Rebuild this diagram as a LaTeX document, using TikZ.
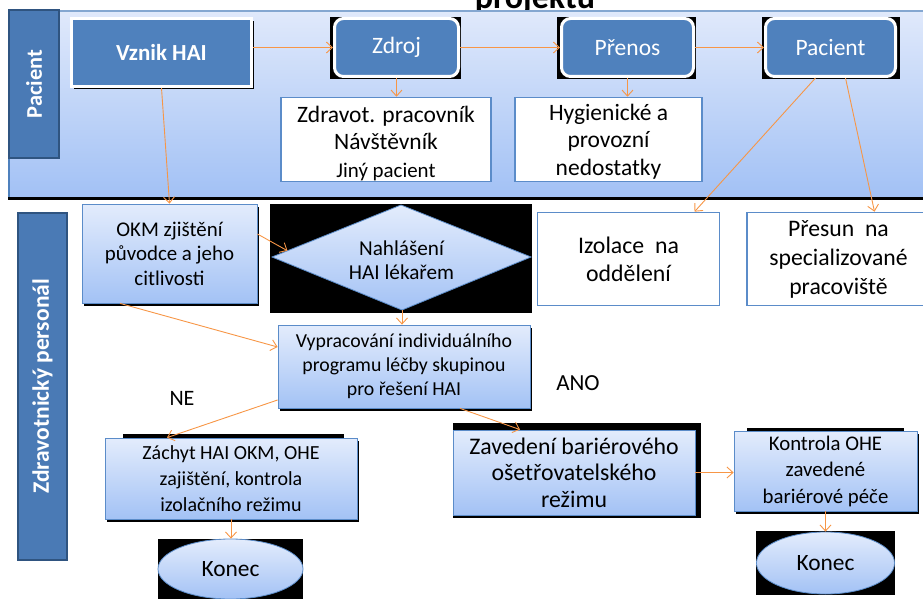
\documentclass[tikz,border=0pt]{standalone}
\usepackage{fontspec}
\setmainfont{Carlito}
\usetikzlibrary{arrows.meta,shapes.geometric,shadows,calc}
\definecolor{orng}{HTML}{F79646}
\definecolor{dblue}{HTML}{4F81BD}
\definecolor{lblue}{HTML}{4A7AB5}
\definecolor{lborder}{HTML}{2F5480}
\definecolor{gtop}{HTML}{E3ECFC}
\definecolor{gbot}{HTML}{A3C2F5}
\definecolor{wborder}{HTML}{5B8CC9}
\definecolor{bandtop}{HTML}{E0E9FB}
\definecolor{bandbot}{HTML}{A2C1F5}
\newcommand{\fs}[2]{\fontsize{#1}{#2}\selectfont}
\begin{document}
\begin{tikzpicture}[x=1pt,y=-1pt,
  arr/.style={draw=orng, line width=0.9pt, -{Straight Barb[length=6pt,width=11pt]}},
  lanelabel/.style={draw=lborder, line width=1.2pt, fill=lblue, text=white, rotate=90, inner sep=0pt},
  headbox/.style={rounded corners=9pt, fill=dblue, draw=white, line width=3pt, text=white, inner sep=0pt, font=\fs{23.5}{27}},
  whitebox/.style={draw=wborder, line width=1.6pt, fill=white, align=center, inner sep=0pt},
  lightbox/.style={draw=wborder, line width=0.8pt, top color=gtop, bottom color=gbot, align=center, inner sep=0pt,
     drop shadow={shadow xshift=2pt, shadow yshift=-3pt, fill=black, opacity=1}},
  endbox/.style={ellipse, draw=wborder, line width=0.8pt, top color=gtop, bottom color=gbot, inner sep=0pt, font=\fs{23.4}{27}},
  blk/.style={fill=black}
]
\useasboundingbox (0,0) rectangle (923,599);
\clip (0,0) rectangle (923,599);

% title (cut off at top, as in the reference)
\node[anchor=base, font=\bfseries\fs{34}{40}] (title) at (535,9) {projektu};

% Pacient band
\path[top color=bandtop, bottom color=bandbot] (9,11) rectangle (935,197);
\draw[draw=dblue!70, line width=1.2pt] (9,11) -- (935,11);
\draw[draw=dblue, line width=1.2pt] (9,11) -- (9,197);
\draw[black, line width=3pt] (8,198.5) -- (935,198.5);

% lane labels
\node[lanelabel, minimum width=148pt, minimum height=50pt, font=\bfseries\fs{22.4}{26}] (lanep) at (34,84) {Pacient};
\node[lanelabel, minimum width=347pt, minimum height=49pt, font=\bfseries\fs{23.5}{27}] (lanez) at (42.5,386.5) {Zdravotnický personál};

% black backgrounds
\fill[blk] (330,17) rectangle (461,79);
\fill[blk] (557,17) rectangle (696,79);
\fill[blk] (762,17) rectangle (900,79);
\fill[blk] (270,204) rectangle (532,313);
\fill[blk] (123,434) rectangle (344,441);
\fill[blk] (158,539) rectangle (303,599);
\fill[blk] (453,423) rectangle (701,518);
\fill[blk] (747,428) rectangle (904,434);
\fill[blk] (756,531) rectangle (895,595);

% top row
\node[fill=dblue, draw=white, line width=3pt, text=white, inner sep=0pt, minimum width=180pt, minimum height=68pt,
      font=\bfseries\fs{23}{27},
      drop shadow={shadow xshift=2pt, shadow yshift=-2.5pt, fill=black, opacity=1}] (vznik) at (161.5,52.5) {Vznik HAI};
\node[headbox, minimum width=124pt, minimum height=58pt] (zdroj) at (396.5,47.5) {Zdroj};
\node[headbox, minimum width=132pt, minimum height=58pt] (prenos) at (627.5,47.5) {Přenos};
\node[headbox, minimum width=130pt, minimum height=58pt] (pacient) at (830.5,47.5) {Pacient};

\node[whitebox, minimum width=210pt, minimum height=84pt] (zdravot) at (386,139.5) {};
\node[align=center, inner sep=0pt, font=\fs{23.5}{27.5}] (zdravottxt) at ([yshift=-4pt]zdravot.center)
  {Zdravot. pracovník\\Návštěvník\\{\fs{20.9}{27}Jiný pacient}};
\node[whitebox, minimum width=187pt, minimum height=84pt] (hyg) at (608.5,139.5) {};
\node[align=center, inner sep=0pt, font=\fs{23.5}{27.5}] (hygtxt) at ([yshift=-2pt]hyg.center)
  {Hygienické a\\provozní\\nedostatky};

% second lane
\node[lightbox, minimum width=175pt, minimum height=99pt, font=\fs{20.9}{24.5}] (okm) at (169.5,253.5)
  {OKM zjištění\\původce a jeho\\citlivosti};
\coordinate (diaW) at (272,257);
\coordinate (diaN) at (401,205);
\coordinate (diaE) at (531,257);
\coordinate (diaS) at (402,310);
\path[draw=wborder, line width=0.8pt, top color=gtop, bottom color=gbot] (diaW) -- (diaN) -- (diaE) -- (diaS) -- cycle;
\node[align=center, inner sep=0pt, font=\fs{21.2}{24}] (dia) at (401.5,260) {Nahlášení\\HAI lékařem};
\node[whitebox, minimum width=182pt, minimum height=93pt, font=\fs{23.8}{28}] (izol) at (628.5,259)
  {Izolace\ \ na\\oddělení};
\node[whitebox, minimum width=183pt, minimum height=93pt, font=\fs{23.7}{29}] (presun) at (838.5,259)
  {Přesun\ \ na\\specializované\\pracoviště};

\node[lightbox, minimum width=252pt, minimum height=83pt, font=\fs{19.8}{24}] (vyprac) at (404,366.5)
  {Vypracování individuálního\\programu léčby skupinou\\pro řešení HAI};

\node[font=\fs{22}{26}] (ne) at (182,398) {NE};
\node[font=\fs{23}{27}] (ano) at (578,383) {ANO};

\node[lightbox, minimum width=252pt, minimum height=81pt, font=\fs{20}{26}] (zachyt) at (231,478.5)
  {Záchyt HAI OKM, OHE\\zajištění, kontrola\\izolačního režimu};
\node[draw=wborder, line width=0.8pt, top color=gtop, bottom color=gbot, align=center, inner sep=0pt,
      minimum width=242pt, minimum height=85pt, font=\fs{23.8}{26.5}] (zaved) at (574,472.5)
  {Zavedení bariérového\\ošetřovatelského\\režimu};
\node[lightbox, minimum width=183pt, minimum height=80pt, font=\fs{20.8}{26.5}] (kontr) at (825.5,471)
  {Kontrola OHE\\zavedené\\bariérové péče};

\node[endbox, minimum width=145pt, minimum height=60pt] (konec1) at (230.5,569) {Konec};
\node[endbox, minimum width=138pt, minimum height=62pt] (konec2) at (825.5,563) {Konec};

% connectors
\draw[arr] (vznik.east |- zdroj.west) -- (zdroj.west);
\draw[arr] (zdroj.east) -- (prenos.west);
\draw[arr] (prenos.east) -- (pacient.west);
\draw[arr] (zdroj.south) -- (zdroj.south |- zdravot.north);
\draw[arr] (prenos.south) -- (prenos.south |- hyg.north);
\draw[arr] ([xshift=-15pt]pacient.south) -- ([xshift=66pt]izol.north);
\draw[arr] ([xshift=15pt]pacient.south) -- ([xshift=36pt]presun.north);
\draw[arr] (vznik.south) -- (okm.north);
\draw[arr] ([yshift=19.5pt]okm.east) -- ($(diaW)!0.12!(diaN)$);
\draw[arr] (diaS) -- (diaS |- vyprac.north);
\draw[arr] ([xshift=-49.5pt]okm.south) -- ([yshift=19.5pt]vyprac.west);
\draw[arr] ([yshift=-33.5pt]vyprac.west) -- ([xshift=-64pt]zachyt.north);
\draw[arr] (zachyt.south) -- (zachyt.south |- konec1.north);
\draw[arr] ([xshift=56pt]vyprac.south) -- ([xshift=-54pt]zaved.north);
\draw[arr] (zaved.east) -- (zaved.east -| kontr.west);
\draw[arr] (kontr.south) -- (konec2.north);
\end{tikzpicture}
\end{document}
